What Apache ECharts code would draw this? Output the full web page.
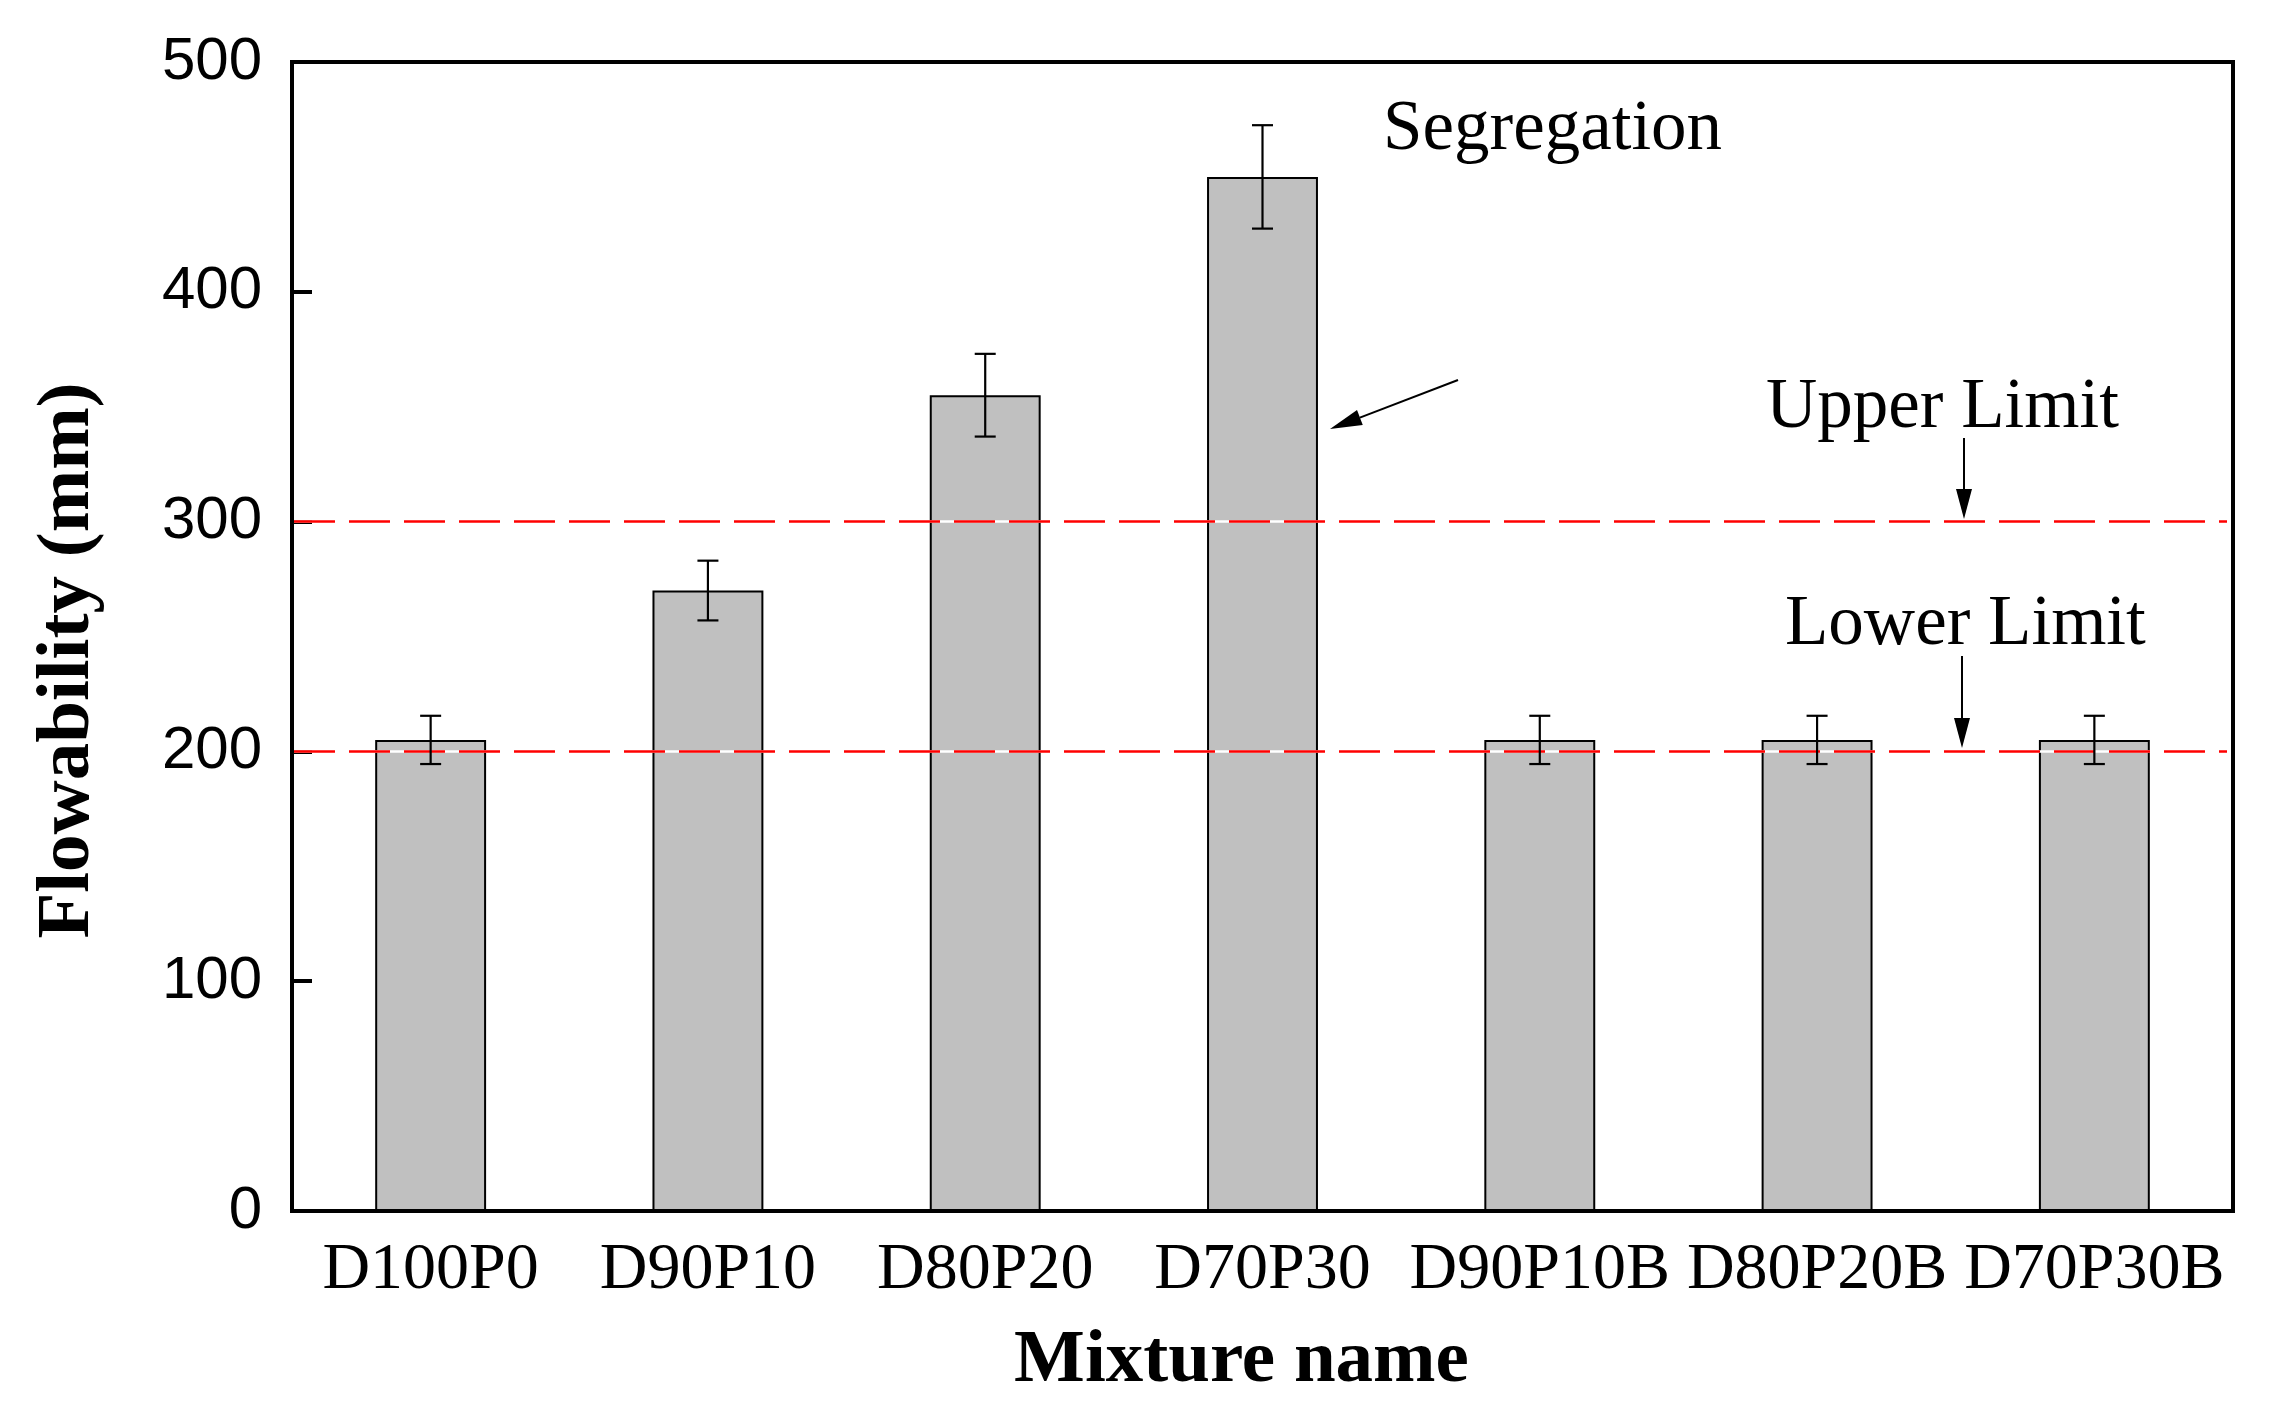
<!DOCTYPE html>
<html>
<head>
<meta charset="utf-8">
<script src="https://cdn.jsdelivr.net/npm/echarts@6/dist/echarts.min.js"></script>
<style>
html,body{margin:0;padding:0;background:#ffffff;}
#chart{width:2281px;height:1411px;}
</style>
</head>
<body>
<div id="chart"></div>
<script>
// ---- data ----
const categories = ['D100P0', 'D90P10', 'D80P20', 'D70P30', 'D90P10B', 'D80P20B', 'D70P30B'];
const flowability = [205, 270, 355, 450, 205, 205, 205];
const flowError = [10.5, 13, 18, 22.5, 10.5, 10.5, 10.5];
const upperLimit = 300;
const lowerLimit = 200;
const yMin = 0, yMax = 500, yInterval = 100;
const xAxisTitle = 'Mixture name';
const yAxisTitle = 'Flowability (mm)';
const annotations = ['Segregation', 'Upper Limit', 'Lower Limit'];

const SERIF = '"Liberation Serif", "Times New Roman", serif';
const SANS = '"Liberation Sans", Arial, sans-serif';

const chart = echarts.init(document.getElementById('chart'), null, {renderer: 'canvas'});

function arrow(x1, y1, x2, y2, headLen, headHalf) {
  const dx = x2 - x1, dy = y2 - y1;
  const L = Math.sqrt(dx * dx + dy * dy);
  const ux = dx / L, uy = dy / L;
  const bx = x2 - ux * headLen, by = y2 - uy * headLen;
  const nx = -uy * headHalf, ny = ux * headHalf;
  return [
    {type: 'line', shape: {x1: x1, y1: y1, x2: bx, y2: by}, style: {stroke: '#000', lineWidth: 2}, z: 100},
    {type: 'polygon', shape: {points: [[x2, y2], [bx + nx, by + ny], [bx - nx, by - ny]]}, style: {fill: '#000'}, z: 100}
  ];
}

function note(text, x, y) {
  return {
    type: 'text', x: x, y: y, z: 100,
    style: {text: text, font: '71px ' + SERIF, fill: '#000', verticalAlign: 'middle', align: 'left'}
  };
}

const option = {
  backgroundColor: '#ffffff',
  animation: false,
  grid: {
    left: 292, right: 48, top: 62, bottom: 200,
    show: true, borderColor: '#000', borderWidth: 4, backgroundColor: 'transparent'
  },
  xAxis: {
    type: 'category',
    data: categories,
    boundaryGap: true,
    axisLine: {show: true, lineStyle: {color: '#000', width: 4}},
    axisTick: {show: false},
    axisLabel: {color: '#000', fontFamily: SERIF, fontSize: 66, margin: 27, interval: 0, hideOverlap: false},
    name: xAxisTitle,
    nameLocation: 'middle',
    nameGap: 113,
    nameTextStyle: {color: '#000', fontFamily: SERIF, fontWeight: 'bold', fontSize: 75, padding: [0, 42, 0, 0]},
    splitLine: {show: false}
  },
  yAxis: {
    type: 'value',
    min: yMin, max: yMax, interval: yInterval,
    axisLine: {show: true, lineStyle: {color: '#000', width: 4}},
    axisTick: {show: true, inside: true, length: 20, lineStyle: {color: '#000', width: 4}},
    axisLabel: {color: '#000', fontFamily: SANS, fontSize: 60, margin: 30},
    splitLine: {show: false},
    name: yAxisTitle,
    nameLocation: 'middle',
    nameGap: 186,
    nameRotate: 90,
    nameTextStyle: {color: '#000', fontFamily: SERIF, fontWeight: 'bold', fontSize: 75, padding: [0, 48, 0, 0]}
  },
  series: [
    {
      type: 'bar',
      data: flowability,
      barWidth: '40%',
      itemStyle: {color: '#c0c0c0', borderColor: '#000', borderWidth: 2},
      z: 2
    },
    {
      type: 'custom',
      data: [[0, upperLimit], [0, lowerLimit]],
      encode: {x: 0, y: 1},
      z: 4,
      silent: true,
      renderItem: function (params, api) {
        const cs = params.coordSys;
        const y = api.coord([0, api.value(1)])[1];
        const x1 = cs.x + 2, x2 = cs.x + cs.width - 6;
        return {
          type: 'group',
          children: [
            {type: 'line', shape: {x1: x1, y1: y, x2: x2, y2: y}, style: {stroke: '#ffffff', lineWidth: 2.5}},
            {type: 'line', shape: {x1: x1, y1: y, x2: x2, y2: y}, style: {stroke: '#ff0000', lineWidth: 2.5, lineDash: [41, 14]}}
          ]
        };
      }
    },
    {
      type: 'custom',
      data: categories.map(function (c, i) { return [i, flowability[i], flowError[i]]; }),
      encode: {x: 0, y: 1},
      z: 5,
      silent: true,
      renderItem: function (params, api) {
        const i = api.value(0), v = api.value(1), e = api.value(2);
        const top = api.coord([i, v + e]);
        const bot = api.coord([i, v - e]);
        const x = top[0], hw = 10.5;
        const st = {stroke: '#000', lineWidth: 2.2};
        return {
          type: 'group',
          children: [
            {type: 'line', shape: {x1: x, y1: top[1], x2: x, y2: bot[1]}, style: st},
            {type: 'line', shape: {x1: x - hw, y1: top[1], x2: x + hw, y2: top[1]}, style: st},
            {type: 'line', shape: {x1: x - hw, y1: bot[1], x2: x + hw, y2: bot[1]}, style: st}
          ]
        };
      }
    }
  ],
  graphic: [
    note(annotations[0], 1383, 130),
    note(annotations[1], 1766, 408),
    note(annotations[2], 1785, 625)
  ].concat(arrow(1458, 380, 1330, 429, 32, 8))
   .concat(arrow(1964, 438, 1964, 519, 30, 8))
   .concat(arrow(1962, 656, 1962, 748, 30, 8))
};

chart.setOption(option);
</script>
</body>
</html>
